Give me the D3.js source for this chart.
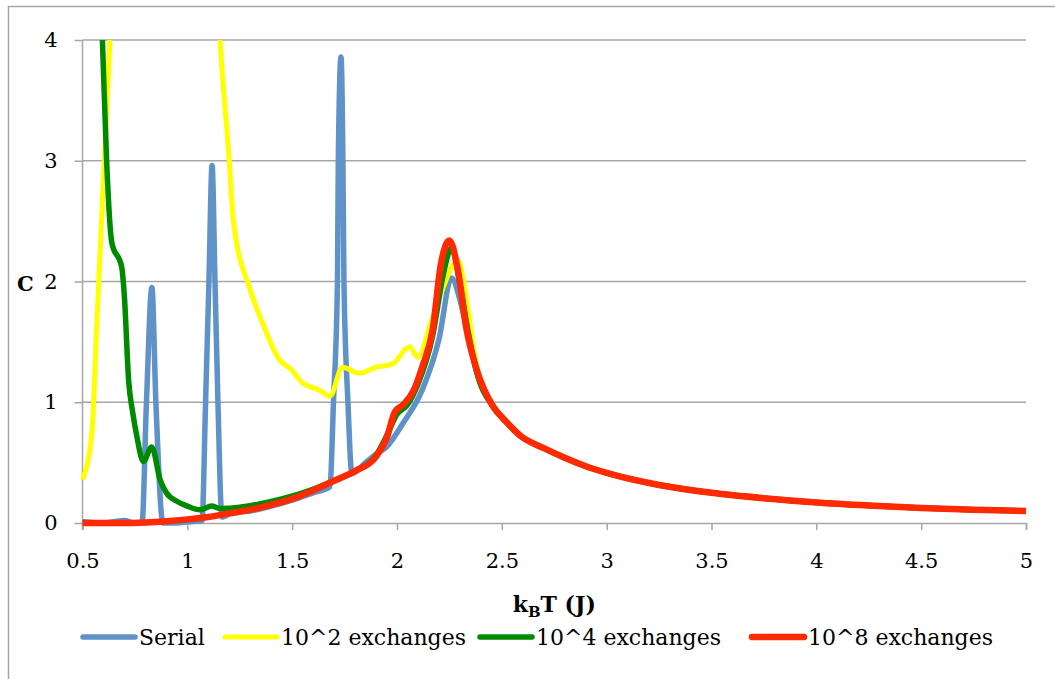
<!DOCTYPE html>
<html>
<head>
<meta charset="utf-8">
<script src="https://cdn.jsdelivr.net/npm/d3@7/dist/d3.min.js"></script>
<style>
    body { margin: 0; background: #fff; }
    svg { display: block; }
    text { font-family: "DejaVu Serif", "Liberation Serif", serif; fill: #000; }
</style>
</head>
<body>
<div id="chart"></div>
<script>
"use strict";

// shared high temperature tail, all four runs sit on top of each other here
var tailT = [2.59, 2.7, 2.8, 2.9, 3.0, 3.25, 3.5, 3.75, 4.0, 4.25, 4.5, 4.75, 5.0];
var tailC = [0.72, 0.62, 0.54, 0.47, 0.415, 0.315, 0.25, 0.205, 0.17, 0.145, 0.125, 0.11, 0.1];

var serialT = [0.5, 0.6, 0.65, 0.7, 0.75, 0.784, 0.805, 0.831, 0.85, 0.884, 0.95, 1.0, 1.07, 1.087, 1.103,
    1.118, 1.132, 1.146, 1.165, 1.22, 1.3, 1.4, 1.5, 1.6, 1.68, 1.697, 1.716, 1.72, 1.733, 1.742, 1.747,
    1.766, 1.785, 1.85, 1.9, 1.95, 2.03, 2.12, 2.2, 2.26, 2.3, 2.34, 2.38, 2.46, 2.52];
var serialC = [0.01, 0.0, 0.01, 0.02, 0.0, 0.0, 1.0, 1.95, 1.0, 0.0, 0.0, 0.01, 0.02, 1.0, 2.0,
    2.96, 2.0, 1.0, 0.05, 0.09, 0.1, 0.14, 0.19, 0.25, 0.3, 1.0, 2.0, 3.0, 3.86, 3.0, 2.0,
    1.0, 0.41, 0.5, 0.57, 0.63, 0.83, 1.1, 1.52, 2.03, 1.85, 1.55, 1.25, 0.96, 0.84];

var yellowT = [0.5, 0.545, 0.568, 0.6, 0.631, 0.7, 0.9, 1.1, 1.156, 1.2, 1.22, 1.3, 1.36, 1.44, 1.49, 1.55,
    1.63, 1.68, 1.74, 1.82, 1.9, 1.98, 2.06, 2.1, 2.16, 2.22, 2.29, 2.34, 2.38, 2.46, 2.52];
var yellowC = [0.36, 0.75, 1.63, 2.85, 4.0, 6.5, 9.0, 6.0, 4.0, 3.0, 2.5, 1.93, 1.65, 1.35, 1.28, 1.16,
    1.1, 1.05, 1.29, 1.24, 1.29, 1.32, 1.46, 1.37, 1.65, 1.95, 2.18, 1.75, 1.3, 0.97, 0.84];

var greenT = [0.55, 0.595, 0.615, 0.64, 0.687, 0.7, 0.72, 0.74, 0.76, 0.79, 0.83, 0.87, 0.9, 0.95, 1.0, 1.06,
    1.116, 1.156, 1.25, 1.35, 1.45, 1.55, 1.7, 1.8, 1.9, 1.95, 2.0, 2.05, 2.1, 2.17, 2.22, 2.26, 2.3, 2.34,
    2.38, 2.46, 2.52];
var greenC = [6.5, 4.0, 3.0, 2.32, 2.12, 1.87, 1.18, 0.91, 0.71, 0.51, 0.63, 0.36, 0.25, 0.18, 0.14, 0.11,
    0.14, 0.12, 0.13, 0.16, 0.2, 0.25, 0.35, 0.43, 0.56, 0.72, 0.9, 0.98, 1.15, 1.55, 2.05, 2.28, 1.98, 1.58,
    1.25, 0.96, 0.84];

var redT = [0.5, 0.6, 0.7, 0.8, 0.9, 1.0, 1.1, 1.2, 1.3, 1.4, 1.5, 1.6, 1.7, 1.8, 1.9, 1.95, 1.99, 2.03,
    2.08, 2.12, 2.17, 2.21, 2.25, 2.29, 2.33, 2.38, 2.46, 2.52];
var redC = [0.0, 0.0, 0.0, 0.005, 0.015, 0.03, 0.05, 0.08, 0.11, 0.15, 0.2, 0.27, 0.35, 0.43, 0.55, 0.7,
    0.92, 0.98, 1.1, 1.29, 1.6, 2.15, 2.34, 2.1, 1.62, 1.27, 0.96, 0.84];

var seriesNames = ["Serial", "10^2 exchanges", "10^4 exchanges", "10^8 exchanges"];
var seriesColors = ["#5e92c8", "#ffff00", "#008a00", "#ff2a00"];
var seriesWidths = [5.5, 5, 5.5, 6.5];

var xTicks = [0.5, 1, 1.5, 2, 2.5, 3, 3.5, 4, 4.5, 5];
var yTicks = [0, 1, 2, 3, 4];

function zipSeries(t, c) {
    return t.concat(tailT).map(function (d, i) {
        return { t: d, c: c.concat(tailC)[i] };
    });
}

var series = [
    zipSeries(serialT, serialC),
    zipSeries(yellowT, yellowC),
    zipSeries(greenT, greenC),
    zipSeries(redT, redC)
];

var width = 1055;
var height = 679;
var gridColor = "#a6a6a6";

var x = d3.scaleLinear().domain([0.5, 5]).range([82.5, 1026]);
var y = d3.scaleLinear().domain([0, 4]).range([523, 40]);

var svg = d3.select("#chart")
    .append("svg")
    .attr("width", width)
    .attr("height", height);

// chart area border (right and bottom fall off the picture)
svg.append("rect")
    .attr("x", 8.5)
    .attr("y", 6.5)
    .attr("width", 1070)
    .attr("height", 700)
    .attr("fill", "none")
    .attr("stroke", gridColor)
    .attr("stroke-width", 1.5);

svg.append("clipPath")
    .attr("id", "plotClip")
    .append("rect")
    .attr("x", 60)
    .attr("y", y(4))
    .attr("width", 1000)
    .attr("height", 540 - y(4));

// horizontal gridlines
svg.append("g")
    .selectAll("line")
    .data(yTicks.slice(1))
    .enter()
    .append("line")
    .attr("x1", x(0.5))
    .attr("x2", x(5))
    .attr("y1", function (d) { return y(d); })
    .attr("y2", function (d) { return y(d); })
    .attr("stroke", gridColor)
    .attr("stroke-width", 1.5);

var yAxis = svg.append("g")
    .attr("transform", "translate(" + x(0.5) + ",0)")
    .call(d3.axisLeft(y).tickValues(yTicks).tickSize(8).tickPadding(17).tickFormat(d3.format("d")));

var xAxis = svg.append("g")
    .attr("transform", "translate(0," + y(0) + ")")
    .call(d3.axisBottom(x).tickValues(xTicks).tickSize(7).tickPadding(23).tickFormat(function (d) { return String(d); }));

[yAxis, xAxis].forEach(function (g) {
    g.select(".domain").attr("stroke", gridColor).attr("stroke-width", 1.5);
    g.selectAll(".tick line").attr("stroke", gridColor).attr("stroke-width", 1.5);
    g.selectAll(".tick text")
        .attr("font-family", "DejaVu Serif")
        .attr("font-size", "21px")
        .attr("fill", "#000");
});
// the vertical axis runs down to the bottom tick marks
yAxis.select(".domain").attr("d", "M0," + y(4) + "V" + (y(0) + 7));

svg.append("text")
    .attr("x", 17)
    .attr("y", 291)
    .attr("font-size", "21px")
    .attr("font-weight", "bold")
    .text("C");

var xTitle = svg.append("text")
    .attr("x", (x(0.5) + x(5)) / 2)
    .attr("y", 612)
    .attr("text-anchor", "middle")
    .attr("font-size", "22px")
    .attr("font-weight", "bold");
xTitle.append("tspan").text("k");
xTitle.append("tspan").attr("dy", 5).attr("font-size", "15px").text("B");
xTitle.append("tspan").attr("dy", -5).text("T (J)");

var line = d3.line()
    .x(function (d) { return x(d.t); })
    .y(function (d) { return y(d.c); })
    .curve(d3.curveMonotoneX);

svg.append("g")
    .attr("clip-path", "url(#plotClip)")
    .selectAll("path")
    .data(series)
    .enter()
    .append("path")
    .attr("d", line)
    .attr("fill", "none")
    .attr("stroke", function (d, i) { return seriesColors[i]; })
    .attr("stroke-width", function (d, i) { return seriesWidths[i]; })
    .attr("stroke-linejoin", "round");

// legend
var legendX = [83, 225, 480, 752];
var legend = svg.append("g")
    .selectAll("g")
    .data(seriesNames)
    .enter()
    .append("g")
    .attr("transform", function (d, i) { return "translate(" + legendX[i] + ",637)"; });

legend.append("line")
    .attr("x1", 0)
    .attr("x2", 52)
    .attr("stroke", function (d, i) { return seriesColors[i]; })
    .attr("stroke-width", function (d, i) { return seriesWidths[i]; })
    .attr("stroke-linecap", "round");

legend.append("text")
    .attr("x", 56)
    .attr("y", 8)
    .attr("font-size", "22px")
    .text(function (d) { return d; });
</script>
</body>
</html>
